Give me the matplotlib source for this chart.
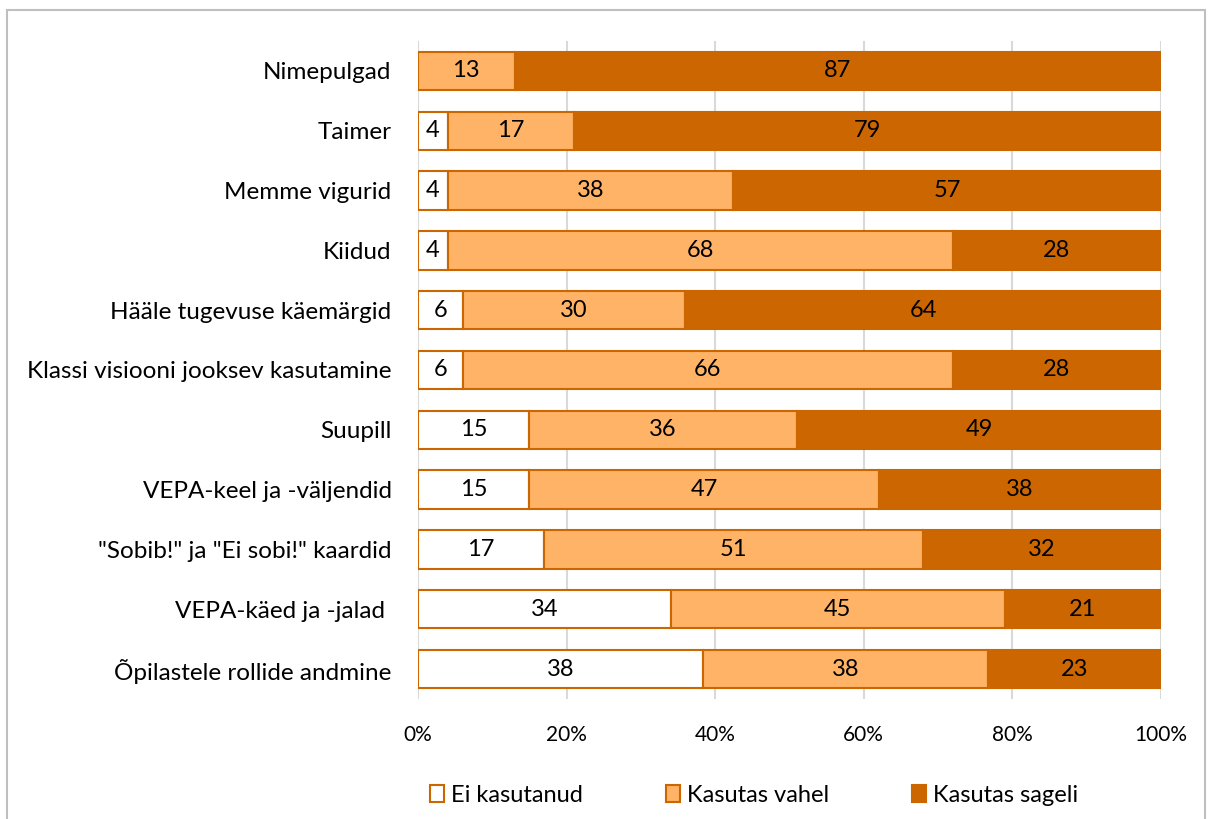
import matplotlib.pyplot as plt
import numpy as np
from matplotlib.patches import Rectangle

plt.rcParams['font.family'] = ['Lato', 'DejaVu Sans']

# Categories from top to bottom
categories = ['Nimepulgad', 'Taimer', 'Memme vigurid', 'Kiidud',
              'Hääle tugevuse käemärgid', 'Klassi visiooni jooksev kasutamine',
              'Suupill', 'VEPA-keel ja -väljendid',
              '"Sobib!" ja "Ei sobi!" kaardid', 'VEPA-käed ja -jalad ',
              'Õpilastele rollide andmine']
ei_kasutanud = [0, 4, 4, 4, 6, 6, 15, 15, 17, 34, 38]
kasutas_vahel = [13, 17, 38, 68, 30, 66, 36, 47, 51, 45, 38]
kasutas_sageli = [87, 79, 57, 28, 64, 28, 49, 38, 32, 21, 23]

series_names = ['Ei kasutanud', 'Kasutas vahel', 'Kasutas sageli']
colors = ['#FFFFFF', '#FFB366', '#CC6600']
edge = '#CC6600'

data = np.array([ei_kasutanud, kasutas_vahel, kasutas_sageli], dtype=float)
totals = data.sum(axis=0)
shares = data / totals * 100

fig = plt.figure(figsize=(12.12, 8.19), dpi=100)
ax = fig.add_axes([418 / 1212, 1 - 699 / 819, (1161 - 418) / 1212, (699 - 41) / 819])

y = np.arange(len(categories))
left = np.zeros(len(categories))
for i, name in enumerate(series_names):
    bars = ax.barh(y, shares[i], left=left, height=0.64, color=colors[i],
                   edgecolor=edge, linewidth=1.5, label=name, zorder=3)
    for j, b in enumerate(bars):
        if data[i, j] > 0:
            ax.text(left[j] + shares[i, j] / 2, y[j], f'{int(data[i, j])}',
                    ha='center', va='center', fontsize=17, color='black', zorder=4)
    left += shares[i]

ax.set_ylim(len(categories) - 0.5, -0.5)
ax.set_xlim(0, 100)
ax.set_yticks(y)
ax.set_yticklabels(categories, fontsize=17.5)
ax.set_xticks(np.arange(0, 101, 20))
ax.set_xticklabels([f'{v}%' for v in range(0, 101, 20)], fontsize=15)
ax.tick_params(axis='y', length=0, pad=19)
ax.tick_params(axis='x', length=0, pad=19)
for s in ax.spines.values():
    s.set_visible(False)
ax.grid(axis='x', color='#D9D9D9', linewidth=1.5, zorder=0)

leg = fig.legend(loc='center', bbox_to_anchor=(0.622, 1 - 795 / 819), ncol=3,
                 frameon=False, fontsize=17, handlelength=0.6, handleheight=0.7,
                 handletextpad=0.3, columnspacing=3.5)

# outer chart border
fig.patches.append(Rectangle((7 / 1212, -0.05), (1205 - 7) / 1212, 1.05 - 10 / 819,
                             transform=fig.transFigure, fill=False,
                             edgecolor='#BFBFBF', linewidth=1.5))

fig.savefig('out.png', dpi=100)
